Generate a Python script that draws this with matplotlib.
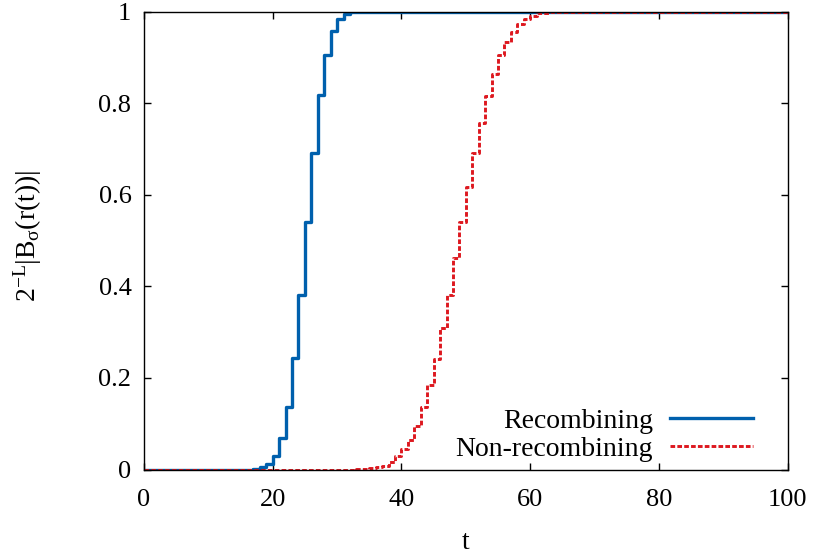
import matplotlib.pyplot as plt

plt.rcParams['font.family'] = ['Liberation Serif', 'DejaVu Serif']
plt.rcParams['mathtext.fontset'] = 'custom'
plt.rcParams['mathtext.rm'] = 'Liberation Serif'
plt.rcParams['mathtext.it'] = 'Liberation Serif'
plt.rcParams['mathtext.bf'] = 'Liberation Serif'

# step data (value held from t[i] to t[i+1])
recomb_t = [0, 17, 18, 19, 20, 21, 22, 23, 24, 25, 26, 27, 28, 29, 30, 31, 32, 33, 100]
recomb_y = [0, 0.001, 0.006, 0.011, 0.029, 0.068, 0.137, 0.243, 0.382, 0.541, 0.692,
            0.817, 0.905, 0.957, 0.984, 0.995, 0.999, 1.0, 1.0]

nonrecomb_t = [0, 33, 34, 35, 36, 37, 38, 39, 40, 41, 42, 43, 44, 45, 46, 47, 48, 49,
               50, 51, 52, 53, 54, 55, 56, 57, 58, 59, 60, 61, 62, 63, 64, 100]
nonrecomb_y = [0, 0.0005, 0.001, 0.003, 0.005, 0.008, 0.017, 0.030, 0.045, 0.064, 0.096,
               0.136, 0.185, 0.241, 0.308, 0.381, 0.461, 0.541, 0.618, 0.691, 0.756,
               0.816, 0.864, 0.905, 0.934, 0.956, 0.972, 0.984, 0.991, 0.996, 0.998,
               0.999, 1.0, 1.0]

x_ticks = [0, 20, 40, 60, 80, 100]
y_ticks = [0, 0.2, 0.4, 0.6, 0.8, 1]
y_tick_labels = ['0', '0.2', '0.4', '0.6', '0.8', '1']

fig = plt.figure(figsize=(8.13, 5.54), dpi=100)
ax = fig.add_axes([0.177, 0.1525, 0.792, 0.8265])

ax.plot(recomb_t, recomb_y, drawstyle='steps-post', color='#0060ad', lw=2.4,
        label='Recombining')
ax.plot(nonrecomb_t, nonrecomb_y, drawstyle='steps-post', color='#dd181f', lw=2.1,
        dashes=(1.6, 0.75), label='Non-recombining')

ax.set_xlim(0, 100)
ax.set_ylim(0, 1)
ax.set_xticks(x_ticks)
ax.set_yticks(y_ticks)
ax.set_yticklabels(y_tick_labels)
ax.tick_params(direction='in', top=True, right=True, length=5, width=1,
               labelsize=19, pad=9)
ax.tick_params(axis='x', pad=14)
for s in ax.spines.values():
    s.set_linewidth(1)

ax.set_xlabel('t', fontsize=20, labelpad=14)
ax.set_ylabel(r'$\mathrm{2^{-L}|B_{\sigma}(r(t))|}$', fontsize=20)
ax.yaxis.set_label_coords(-0.155, 0.51)

ax.legend(loc='lower right', bbox_to_anchor=(0.946, 0.016), frameon=False,
          markerfirst=False, fontsize=20, handlelength=3.0, handletextpad=0.6,
          labelspacing=0.1, borderpad=0, borderaxespad=0)

plt.savefig('out.png', dpi=100, facecolor='white')
plt.close()
